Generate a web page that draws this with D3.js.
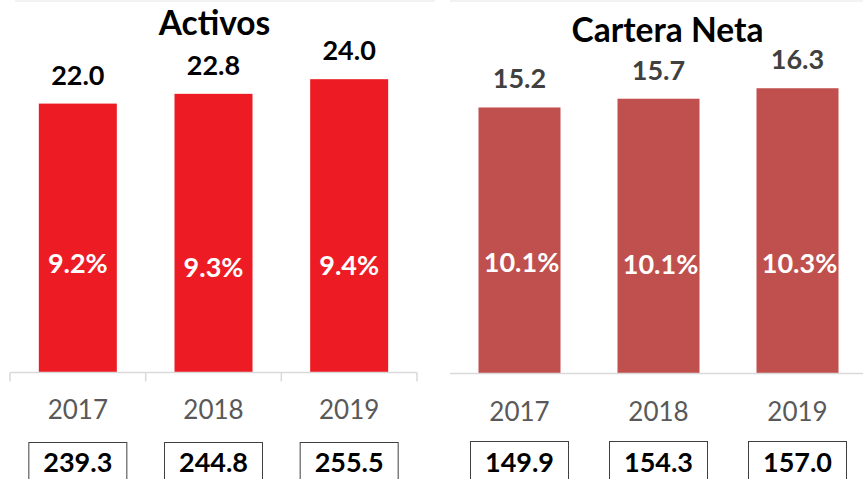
<!DOCTYPE html>
<html><head><meta charset="utf-8">
<script src="https://cdn.jsdelivr.net/npm/d3@7"></script>
<style>body{margin:0;background:#fff;}svg{display:block;}</style>
</head><body>
<svg id="c" width="863" height="479"></svg>
<script>
const years = ["2017", "2018", "2019"];
const activos = [22.0, 22.8, 24.0];
const activosPct = ["9.2%", "9.3%", "9.4%"];
const activosBox = ["239.3", "244.8", "255.5"];
const cartera = [15.2, 15.7, 16.3];
const carteraPct = ["10.1%", "10.1%", "10.3%"];
const carteraBox = ["149.9", "154.3", "157.0"];

const svg = d3.select("#c");
const FONT = "Lato, 'Open Sans', sans-serif";

// faint top shadow line
svg.append("rect").attr("x", 15).attr("y", 0).attr("width", 420).attr("height", 2).attr("fill", "#f2f2f2");
svg.append("rect").attr("x", 450).attr("y", 0).attr("width", 413).attr("height", 2).attr("fill", "#f2f2f2");

function panel(cfg) {
  const g = svg.append("g");
  const x = d3.scaleBand().domain(years).range(cfg.xr).paddingInner(cfg.pad).paddingOuter(cfg.pad / 2);
  const y = d3.scaleLinear().domain(cfg.yd).range([cfg.base, cfg.top]);
  const data = years.map((yr, i) => ({yr, v: cfg.vals[i], pct: cfg.pct[i], box: cfg.box[i]}));

  g.selectAll("rect.bar").data(data).join("rect").attr("class", "bar")
    .attr("x", d => x(d.yr)).attr("width", x.bandwidth())
    .attr("y", d => y(d.v)).attr("height", d => y(0) - y(d.v))
    .attr("fill", cfg.color);

  // axis
  const axY = cfg.base + 0.5;
  g.append("line").attr("x1", cfg.xr[0]).attr("x2", cfg.xr[1]).attr("y1", axY).attr("y2", axY)
    .attr("stroke", "#d9d9d9").attr("stroke-width", 1.5);
  if (cfg.ticks) {
    const edges = years.map(yr => x(yr) - x.step() * x.paddingInner() / 2).concat([cfg.xr[1]]);
    g.selectAll("line.tk").data(edges).join("line").attr("class", "tk")
      .attr("x1", d => d).attr("x2", d => d).attr("y1", axY).attr("y2", axY + 9)
      .attr("stroke", "#d9d9d9").attr("stroke-width", 1.5);
  }

  const cx = d => x(d.yr) + x.bandwidth() / 2;
  // value labels
  g.selectAll("text.val").data(data).join("text").attr("class", "val")
    .attr("x", cx).attr("y", d => y(d.v) - 19)
    .attr("text-anchor", "middle").attr("font-family", FONT).attr("font-weight", 700)
    .attr("font-size", 27).attr("fill", cfg.valColor).text(d => d.v.toFixed(1));
  // pct labels
  g.selectAll("text.pct").data(data).join("text").attr("class", "pct")
    .attr("x", d => cx(d) + cfg.pctDx).attr("y", (d, i) => cfg.pctY[i])
    .attr("text-anchor", "middle").attr("font-family", FONT).attr("font-weight", 700)
    .attr("font-size", 27).attr("fill", "#fff").text(d => d.pct);
  // year labels
  g.selectAll("text.yr").data(data).join("text").attr("class", "yr")
    .attr("x", cx).attr("y", cfg.yrY)
    .attr("text-anchor", "middle").attr("font-family", FONT)
    .attr("font-size", 26).attr("fill", "#595959").text(d => d.yr);
  // boxes
  g.selectAll("rect.box").data(data).join("rect").attr("class", "box")
    .attr("x", d => cx(d) - 49).attr("y", cfg.boxY).attr("width", 98).attr("height", 45)
    .attr("fill", "#fff").attr("stroke", "#404040").attr("stroke-width", 1);
  g.selectAll("text.box").data(data).join("text").attr("class", "boxt")
    .attr("x", cx).attr("y", 472)
    .attr("text-anchor", "middle").attr("font-family", FONT).attr("font-weight", 700)
    .attr("font-size", 27).attr("fill", "#000").text(d => d.box);
  // title
  g.append("text").attr("x", cfg.titleX).attr("y", cfg.titleY).attr("text-anchor", "middle")
    .attr("font-family", FONT).attr("font-weight", 700).attr("font-size", 33.5)
    .attr("fill", "#000").text(cfg.title);
}

panel({xr: [10, 417], pad: 0.425, yd: [0, 30], base: 372, top: 6, vals: activos, pct: activosPct, box: activosBox,
  color: "#ED1C24", valColor: "#000", ticks: true, pctY: [273, 277, 275], pctDx: 0, yrY: 419, boxY: 442.5,
  title: "Activos", titleX: 214.5, titleY: 35});
panel({xr: [450, 867], pad: 0.41, yd: [0, 20], base: 373, top: 23.6, vals: cartera, pct: carteraPct, box: carteraBox,
  color: "#C0504D", valColor: "#404040", ticks: false, pctY: [272, 274, 273], pctDx: 2, yrY: 421, boxY: 441.5,
  title: "Cartera Neta", titleX: 667.5, titleY: 42});
</script>
</body></html>
